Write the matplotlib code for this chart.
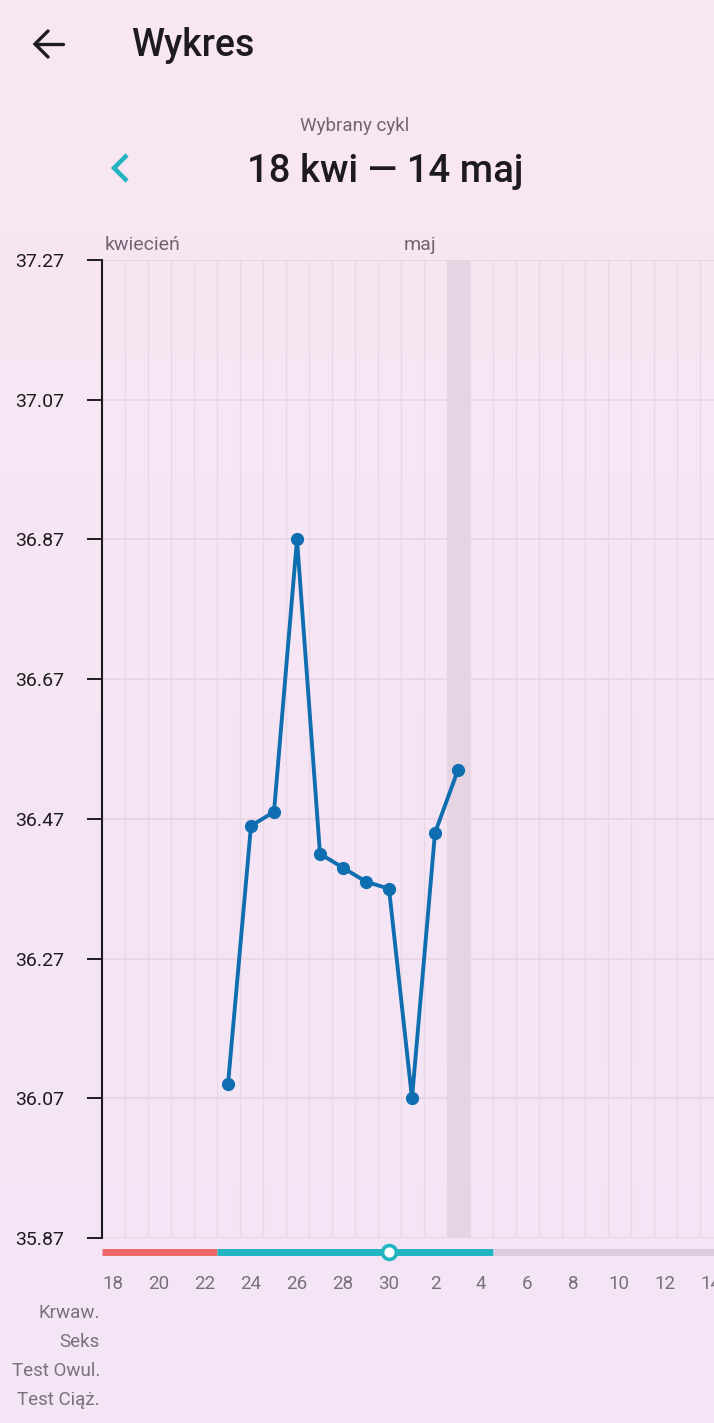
import numpy as np
import matplotlib
matplotlib.use("Agg")
import matplotlib.pyplot as plt

plt.rcParams['font.family'] = ['Roboto', 'DejaVu Sans']

# -----------------------------
# DATA
# -----------------------------
cycle_start = np.datetime64('2024-04-18')
cycle_end = np.datetime64('2024-05-14')
today = np.datetime64('2024-05-03')

temp_dates = np.array(['2024-04-23', '2024-04-24', '2024-04-25', '2024-04-26',
                       '2024-04-27', '2024-04-28', '2024-04-29', '2024-04-30',
                       '2024-05-01', '2024-05-02', '2024-05-03'], dtype='datetime64[D]')
temps = [36.09, 36.46, 36.48, 36.87, 36.42, 36.40, 36.38, 36.37, 36.07, 36.45, 36.54]

y_ticks = [35.87, 36.07, 36.27, 36.47, 36.67, 36.87, 37.07, 37.27]

# phases of the cycle: (first day, last day, colour)
phase_first = np.array(['2024-04-18', '2024-04-23', '2024-05-05'], dtype='datetime64[D]')
phase_last = np.array(['2024-04-22', '2024-05-04', '2024-05-14'], dtype='datetime64[D]')
phase_colors = ['#ee6868', '#22b5c1', '#dccbdd']
ovulation_day = np.datetime64('2024-04-30')

month_names = ['kwiecień', 'maj']
month_first = np.array(['2024-04-18', '2024-05-01'], dtype='datetime64[D]')

row_labels = ['Krwaw.', 'Seks', 'Test Owul.', 'Test Ciąż.']

title = 'Wykres'
subtitle = 'Wybrany cykl'
cycle_label = '18 kwi — 14 maj'

# -----------------------------
# HELPERS
# -----------------------------
def day_index(d):
    return (np.asarray(d, dtype='datetime64[D]') - cycle_start).astype(int)

n_days = int(day_index(cycle_end)) + 1

W, H = 714, 1423
fig = plt.figure(figsize=(W / 100, H / 100), dpi=100)

# background (pixel coordinates)
bg = fig.add_axes([0, 0, 1, 1], zorder=0)
bg.set_xlim(0, W)
bg.set_ylim(H, 0)
bg.axis('off')
top = np.array([249, 231, 242]) / 255
bottom = np.array([243, 229, 246]) / 255
grad = np.linspace(0, 1, 256)[:, None, None]
img = top * (1 - grad) + bottom * grad
bg.imshow(img, extent=[0, W, H, 0], aspect='auto', zorder=0)

# header
ink = '#1d1b20'
bg.plot([35, 63], [44, 44], color=ink, lw=2.4, solid_capstyle='round', zorder=2)
bg.plot([48, 35, 48], [31, 44, 57], color=ink, lw=2.4, solid_capstyle='round',
        solid_joinstyle='miter', zorder=2)
bg.text(131, 46, title, fontsize=27, color=ink, fontweight='medium', va='center', ha='left', zorder=2)
bg.text(355, 126, subtitle, fontsize=13.5, color='#6f6672', va='center', ha='center', zorder=2)
bg.plot([127, 114, 127], [155, 168, 181], color='#22b5c1', lw=3.2, solid_capstyle='butt',
        solid_joinstyle='miter', zorder=2)
bg.text(385, 172, cycle_label, fontsize=27.5, color=ink, fontweight='medium', va='center', ha='center', zorder=2)

for i, lab in enumerate(row_labels):
    bg.text(100, 1313 + i * 29, lab, fontsize=13.5, color='#7a7079', ha='right', va='center', zorder=2)

# -----------------------------
# MAIN CHART
# -----------------------------
ax_left, ax_top, ax_bot = 101.5, 260, 1238
ax = fig.add_axes([ax_left / W, 1 - ax_bot / H, 1 - ax_left / W, (ax_bot - ax_top) / H], zorder=1)
ax.set_facecolor('none')
x_right = -0.5 + (W - ax_left) / 23.0
ax.set_xlim(-0.5, x_right)
ax.set_ylim(y_ticks[0], y_ticks[-1])

for i in range(n_days + 1):
    ax.axvline(i - 0.5, color='#ead8e7', lw=1.0, zorder=0)
for v in y_ticks:
    ax.axhline(v, color='#ead3e3', lw=1.2, zorder=0)

t = int(day_index(today))
ax.axvspan(t - 0.5, t + 0.5, color='#e5d5e2', lw=0, zorder=0.5)

ax.plot(day_index(temp_dates), temps, color='#0f6eb0', lw=2.8, marker='o',
        markersize=8.5, zorder=3)

for name, d in zip(month_names, month_first):
    ax.text(day_index(d) - 0.35, 1.006, name, transform=ax.get_xaxis_transform(),
            fontsize=14, color='#6f6672', ha='left', va='bottom')

ax.set_yticks(y_ticks)
ax.set_yticklabels([f'{v:.2f}' for v in y_ticks])
ax.tick_params(axis='y', length=11, width=1.4, color=ink, pad=16, labelsize=14, labelcolor=ink)
ax.set_xticks([])
for s in ['top', 'right', 'bottom']:
    ax.spines[s].set_visible(False)
ax.spines['left'].set_color(ink)
ax.spines['left'].set_linewidth(1.5)

# -----------------------------
# PHASE BAR + DAY LABELS
# -----------------------------
ax2 = fig.add_axes([ax_left / W, 0, 1 - ax_left / W, (H - ax_bot) / H], zorder=1, sharex=ax)
ax2.set_facecolor('none')
ax2.set_ylim(H, ax_bot)
ax2.axis('off')

for f, l, c in zip(phase_first, phase_last, phase_colors):
    ax2.hlines(1252, day_index(f) - 0.5, min(day_index(l) + 0.5, x_right), color=c, lw=5,
               zorder=2)
ax2.plot(day_index(ovulation_day), 1252, marker='o', markersize=10, markerfacecolor='white',
         markeredgecolor='#22b5c1', markeredgewidth=2.6, zorder=3)

all_days = cycle_start + np.arange(n_days)
for i in range(0, n_days, 2):
    day_num = int(str(all_days[i])[-2:])
    ax2.text(i, 1284, str(day_num), fontsize=13.5, color='#7a7079', ha='center', va='center',
             clip_on=False)

fig.savefig('out.png', dpi=100)
